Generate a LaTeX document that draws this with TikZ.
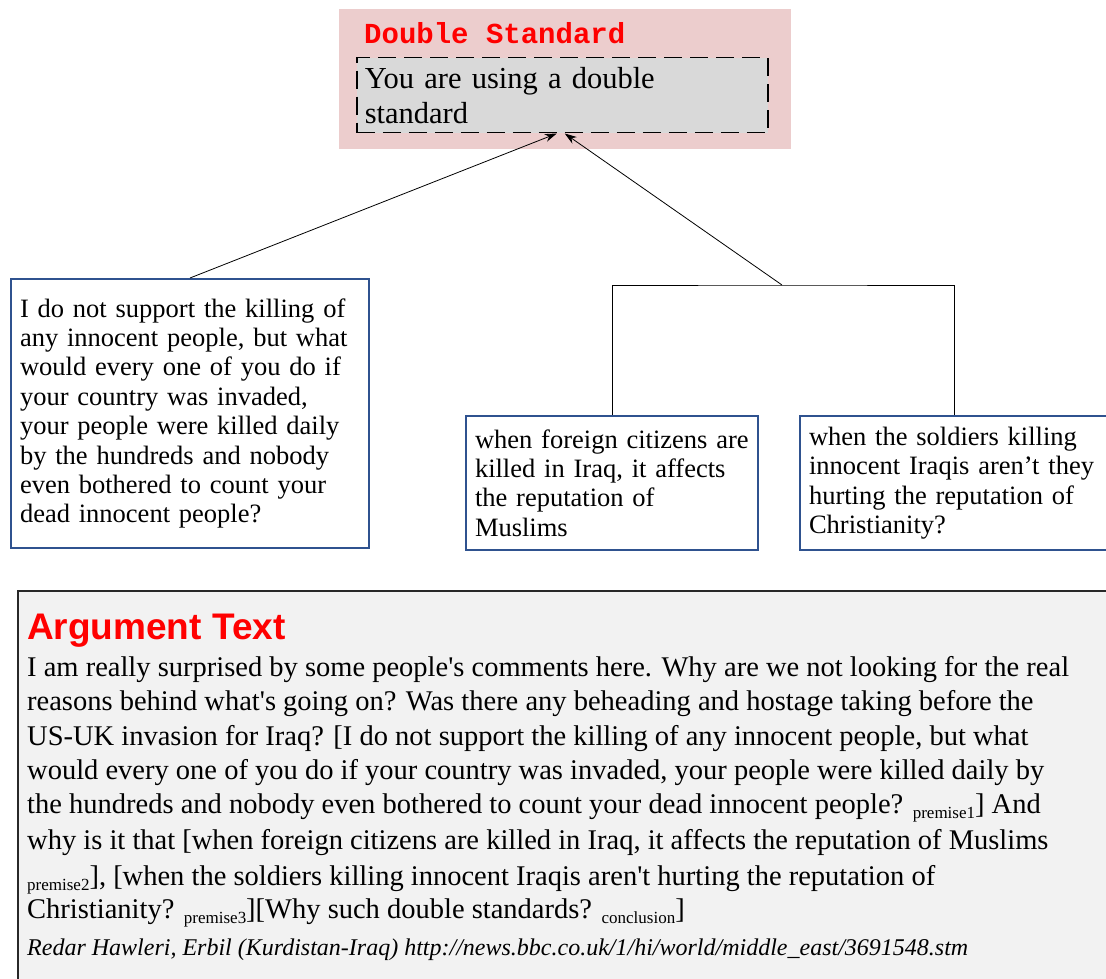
\documentclass[tikz,border=0pt]{standalone}
\usepackage{fontspec}
\setmainfont{Liberation Serif}
\newfontfamily\titlemono{Liberation Mono}
\newfontfamily\headsans{Liberation Sans}
\usetikzlibrary{arrows.meta,calc}
\definecolor{pinkbg}{RGB}{236,205,205}
\definecolor{claimgray}{RGB}{217,217,217}
\definecolor{premblue}{RGB}{47,82,143}
\definecolor{argfill}{RGB}{242,242,242}
\definecolor{argline}{RGB}{40,40,40}
\newcommand{\premsub}[1]{{\fontsize{17}{17}\selectfont\raisebox{-5pt}{#1}}}
\begin{document}
\begin{tikzpicture}[x=1pt,y=-1pt,
  pinkpanel/.style={fill=pinkbg, draw=none, inner sep=0pt},
  titletext/.style={font=\titlemono\bfseries\fontsize{29}{29}\selectfont, text=red, inner sep=0pt},
  claimbox/.style={draw=black, fill=claimgray, line width=1.5pt, dash pattern=on 18pt off 8pt,
    align=left, font=\fontsize{30.5}{35}\selectfont, inner ysep=0pt, inner xsep=8pt},
  premisebox/.style={draw=premblue, fill=white, line width=2pt, align=left,
    font=\fontsize{26.5}{29.4}\selectfont, inner ysep=0pt, inner xsep=9pt},
  arr/.style={draw=black, line width=0.8pt, -{Stealth[length=12pt,width=8pt]}},
  bracket/.style={draw=black, line width=1pt},
  argbox/.style={draw=argline, fill=argfill, line width=1.5pt, inner sep=0pt},
  heading/.style={font=\headsans\bfseries\fontsize{37}{37}\selectfont, text=red, inner sep=0pt},
  body/.style={font=\fontsize{28.5}{28.5}\selectfont, inner sep=0pt},
  source/.style={font=\itshape\fontsize{24}{24}\selectfont, inner sep=0pt}
]
\useasboundingbox (0,0) rectangle (1106,979);
\clip (0,0) rectangle (1106,979);
\fill[white] (0,0) rectangle (1106,979);

% claim
\node[pinkpanel, anchor=north west, minimum width=452pt, minimum height=140pt] (bg) at (339,9) {};
\node[titletext, anchor=base west] (title) at (364,44) {Double Standard};
\node[claimbox, anchor=north west, minimum width=411pt, minimum height=75pt, text width=395pt] (claim) at (356,57)
  {You are using a double\\standard};

% premises
\node[premisebox, anchor=north west, minimum width=358pt, minimum height=269pt, text width=340pt] (p1) at (10,278)
  {I do not support the killing of\\any innocent people, but what\\would every one of you do if\\your country was invaded,\\your people were killed daily\\by the hundreds and nobody\\even bothered to count your\\dead innocent people?};
\node[premisebox, anchor=north west, minimum width=292pt, minimum height=134pt, text width=274pt] (p2) at (465,415)
  {when foreign citizens are\\killed in Iraq, it affects\\the reputation of\\Muslims};
\node[premisebox, anchor=north west, minimum width=308pt, minimum height=134pt, text width=290pt] (p3) at (799,415)
  {when the soldiers killing\\innocent Iraqis aren’t they\\hurting the reputation of\\Christianity?};

% connectors
\coordinate (bar) at (782,285);
\draw[bracket] (p2.north) |- (bar) -| (p3.north);
\draw[arr] (p1.north) -- ($(claim.south)+(-5.5,0)$);
\draw[arr] (bar) -- ($(claim.south)+(2.5,0)$);

% argument text
\node[argbox, anchor=north west, minimum width=1120pt, minimum height=420pt] (arg) at (17,590) {};
\node[heading, anchor=base west] (head) at (27,639) {Argument Text};
\node[body, anchor=base west] (l1) at (27,676) {I am really surprised by some people\textquotesingle s comments here. Why are we not looking for the real};
\node[body, anchor=base west] (l2) at (27,710) {reasons behind what\textquotesingle s going on? Was there any beheading and hostage taking before the};
\node[body, anchor=base west] (l3) at (27,745) {US-UK invasion for Iraq? [I do not support the killing of any innocent people, but what};
\node[body, anchor=base west] (l4) at (27,779) {would every one of you do if your country was invaded, your people were killed daily by};
\node[body, anchor=base west] (l5) at (27,813) {the hundreds and nobody even bothered to count your dead innocent people? \premsub{premise1}] And};
\node[body, anchor=base west] (l6) at (27,849) {why is it that [when foreign citizens are killed in Iraq, it affects the reputation of Muslims};
\node[body, anchor=base west] (l7) at (27,885) {\premsub{premise2}], [when the soldiers killing innocent Iraqis aren\textquotesingle t hurting the reputation of};
\node[body, anchor=base west] (l8) at (27,918) {Christianity? \premsub{premise3}][Why such double standards? \premsub{conclusion}]};
\node[source, anchor=base west] (src) at (27,955) {Redar Hawleri, Erbil (Kurdistan-Iraq) http://news.bbc.co.uk/1/hi/world/middle\_east/3691548.stm};
\end{tikzpicture}
\end{document}
